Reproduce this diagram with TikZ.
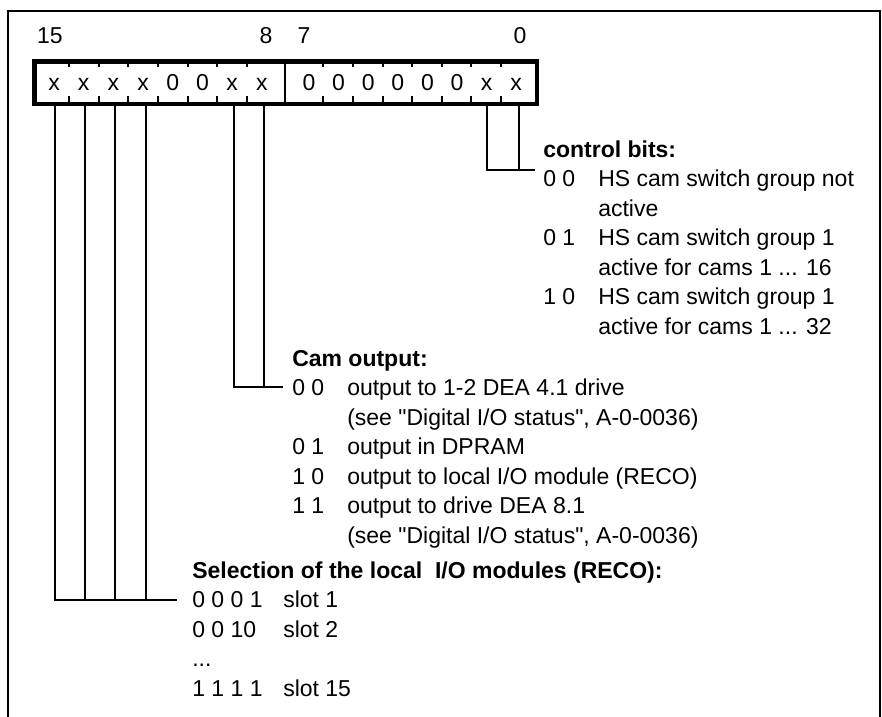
\documentclass[tikz,border=0pt]{standalone}
\usepackage{fontspec}
\setmainfont{Liberation Sans}[Ligatures=TeXOff]
\begin{document}
\begin{tikzpicture}[x=0.75pt,y=-0.75pt,
  txt/.style={anchor=base west,inner sep=0pt,font=\fontsize{17.25}{20}\selectfont},
  hd/.style={anchor=base west,inner sep=0pt,font=\fontsize{17.25}{20}\selectfont\bfseries},
  num/.style={anchor=base,inner sep=0pt,font=\fontsize{17.25}{20}\selectfont},
  lead/.style={line width=1.2pt},
  tick/.style={line width=1.1pt}]
\useasboundingbox (0,0) rectangle (882,717);
% frame
\draw[line width=1.9pt] (8,717) -- (8,11) -- (880,11) -- (880,717);
% header numbers
\node[num] (n15) at (50,44) {15};
\node[num] (n8) at (266,44) {8};
\node[num] (n7) at (304,44) {7};
\node[num] (n0) at (520,44) {0};
% register box
\node[draw,line width=3.4pt,inner sep=0pt,anchor=north west,
      minimum width=376.9pt,minimum height=31.9pt] (reg) at (32.25,59.25) {};
\draw[line width=1.5pt] (285,59) -- (285,102);
\foreach \t in {69,99,128,158,188,217,247,323,353,383,412,442,471,501}{
  \draw[tick] (\t,61) -- (\t,67);
  \draw[tick] (\t,96) -- (\t,102);
}
\foreach \c [count=\i from 0] in {x,x,x,x,0,0,x,x}{
  \node[num] (l\i) at ({54+29.7*\i},90) {\c};
}
\foreach \c [count=\i from 0] in {0,0,0,0,0,0,x,x}{
  \node[num] (r\i) at ({309+29.6*\i},90) {\c};
}
% leader start points
\coordinate (b15) at (55,103);
\coordinate (b14) at (85,103);
\coordinate (b13) at (115,103);
\coordinate (b12) at (146,103);
\coordinate (b9) at (234,103);
\coordinate (b8) at (264,103);
\coordinate (b1) at (487,103);
\coordinate (b0) at (519,103);
\coordinate (ctlh) at (535,170);
\coordinate (camh) at (283,387);
\coordinate (selh) at (177,600);
% leaders
\draw[lead] (b1) |- (ctlh);
\draw[lead] (b0) -- (b0 |- ctlh);
\draw[lead] (b9) |- (camh);
\draw[lead] (b8) -- (b8 |- camh);
\draw[lead] (b15) |- (selh);
\draw[lead] (b14) -- (b14 |- selh);
\draw[lead] (b13) -- (b13 |- selh);
\draw[lead] (b12) -- (b12 |- selh);
% control bits
\node[hd] (ct) at (543,157) {control bits:};
\node[txt] (c1) at (543,186.5) {0 0};
\node[txt] (c1d) at (598,186.5) {HS cam switch group not};
\node[txt] (c1e) at (598,216) {active};
\node[txt] (c2) at (543,245.5) {0 1};
\node[txt] (c2d) at (598,245.5) {HS cam switch group 1};
\node[txt] (c2e) at (598,275) {active for cams 1 ... 16};
\node[txt] (c3) at (543,304.5) {1 0};
\node[txt] (c3d) at (598,304.5) {HS cam switch group 1};
\node[txt] (c3e) at (598,334) {active for cams 1 ... 32};
% cam output
\node[hd] (co) at (292,366) {Cam output:};
\node[txt] (o1) at (292,395.5) {0 0};
\node[txt] (o1d) at (347,395.5) {output to 1-2 DEA 4.1 drive};
\node[txt] (o1e) at (347,425) {(see "Digital I/O status", A-0-0036)};
\node[txt] (o2) at (292,454.5) {0 1};
\node[txt] (o2d) at (347,454.5) {output in DPRAM};
\node[txt] (o3) at (292,484) {1 0};
\node[txt] (o3d) at (347,484) {output to local I/O module (RECO)};
\node[txt] (o4) at (292,513.5) {1 1};
\node[txt] (o4d) at (347,513.5) {output to drive DEA 8.1};
\node[txt] (o4e) at (347,543) {(see "Digital I/O status", A-0-0036)};
% selection
\node[hd] (so) at (192,578) {Selection of the local\ \ I/O modules (RECO):};
\node[txt] (s1) at (192,607.5) {0 0 0 1};
\node[txt] (s1d) at (283,607.5) {slot 1};
\node[txt] (s2) at (192,637) {0 0 10};
\node[txt] (s2d) at (283,637) {slot 2};
\node[txt] (s3) at (192,666.5) {...};
\node[txt] (s4) at (192,696) {1 1 1 1};
\node[txt] (s4d) at (283,696) {slot 15};
\end{tikzpicture}
\end{document}
